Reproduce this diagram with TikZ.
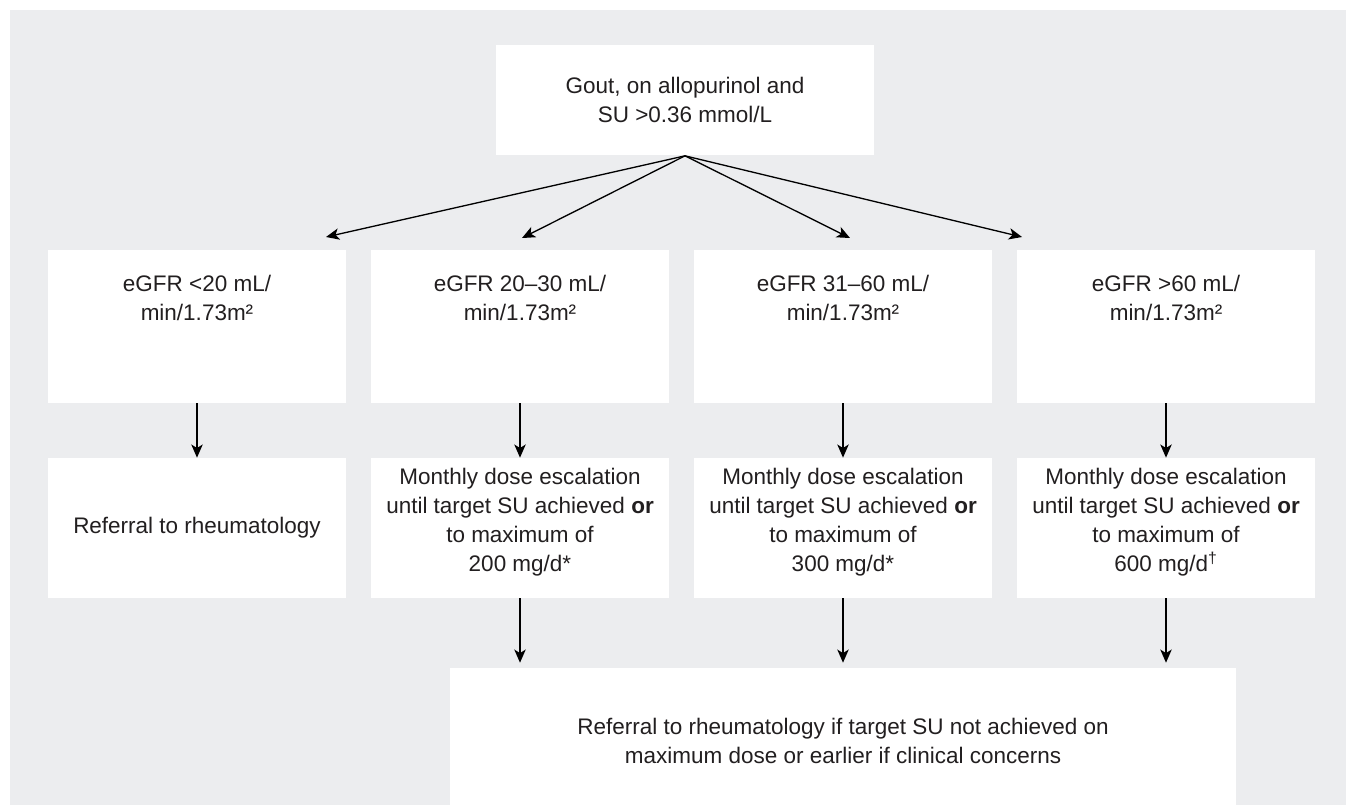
\documentclass[tikz,border=0pt]{standalone}
\usepackage{fontspec}
\setmainfont{Liberation Sans}
\usetikzlibrary{arrows.meta, calc}

\definecolor{bggrey}{RGB}{236,237,239}
\definecolor{txtgrey}{RGB}{34,31,32}

\tikzset{
  box/.style={fill=white, inner sep=0pt},
  txt/.style={align=center, inner sep=0pt, text=txtgrey,
    font=\fontsize{12.8}{16.5}\selectfont},
  topbox/.style={box, txt, minimum width=7.56cm, minimum height=2.22cm},
  colbox/.style={box, minimum width=5.96cm, minimum height=3.06cm},
  dosebox/.style={box, minimum width=5.96cm, minimum height=2.8cm},
  finalbox/.style={box, txt, minimum width=15.74cm, minimum height=2.92cm},
  arr/.style={-{Stealth[length=7.5pt, width=6.5pt, inset=2pt]}, line width=0.75pt}
}

\begin{document}
\begin{tikzpicture}[x=0.02cm, y=-0.02cm]
  % background
  \useasboundingbox (0,0) rectangle (1346,805);
  \fill[bggrey] (10,10) rectangle (1346,805);

  % top box
  \node[topbox] (gout) at (685,100) {Gout, on allopurinol and\\SU >0.36 mmol/L};

  % eGFR boxes
  \node[colbox] (egfr1) at (197,326.5) {};
  \node[colbox] (egfr2) at (520,326.5) {};
  \node[colbox] (egfr3) at (843,326.5) {};
  \node[colbox] (egfr4) at (1166,326.5) {};
  \node[txt] (egfr1txt) at ($(egfr1)+(0,-29)$) {eGFR <20 mL/\\min/1.73m²};
  \node[txt] (egfr2txt) at ($(egfr2)+(0,-29)$) {eGFR 20–30 mL/\\min/1.73m²};
  \node[txt] (egfr3txt) at ($(egfr3)+(0,-29)$) {eGFR 31–60 mL/\\min/1.73m²};
  \node[txt] (egfr4txt) at ($(egfr4)+(0,-29)$) {eGFR >60 mL/\\min/1.73m²};

  % dose boxes
  \node[dosebox] (dose1) at (197,528) {};
  \node[dosebox] (dose2) at (520,528) {};
  \node[dosebox] (dose3) at (843,528) {};
  \node[dosebox] (dose4) at (1166,528) {};
  \node[txt] (dose1txt) at (dose1) {Referral to rheumatology};
  \node[txt] (dose2txt) at ($(dose2)+(0,-6)$)
    {Monthly dose escalation\\until target SU achieved \textbf{or}\\to maximum of\\200 mg/d*};
  \node[txt] (dose3txt) at ($(dose3)+(0,-6)$)
    {Monthly dose escalation\\until target SU achieved \textbf{or}\\to maximum of\\300 mg/d*};
  \node[txt] (dose4txt) at ($(dose4)+(0,-6)$)
    {Monthly dose escalation\\until target SU achieved \textbf{or}\\to maximum of\\600 mg/d\textsuperscript{†}};

  % final box
  \node[finalbox, anchor=north] (final) at (843,668)
    {Referral to rheumatology if target SU not achieved on\\maximum dose or earlier if clinical concerns};

  % arrows
  \coordinate (t1) at (326,237);
  \coordinate (t2) at (522,238);
  \coordinate (t3) at (850,238);
  \coordinate (t4) at (1022,237);
  \foreach \t in {t1,t2,t3,t4}
    \draw[arr] (gout.south) -- (\t);
  \foreach \i in {1,...,4}
    \draw[arr] (egfr\i.south) -- (dose\i.north);
  \foreach \i in {2,3,4}
    \draw[arr] (dose\i.south) -- ([yshift=3pt]final.north -| dose\i.south);
\end{tikzpicture}
\end{document}
